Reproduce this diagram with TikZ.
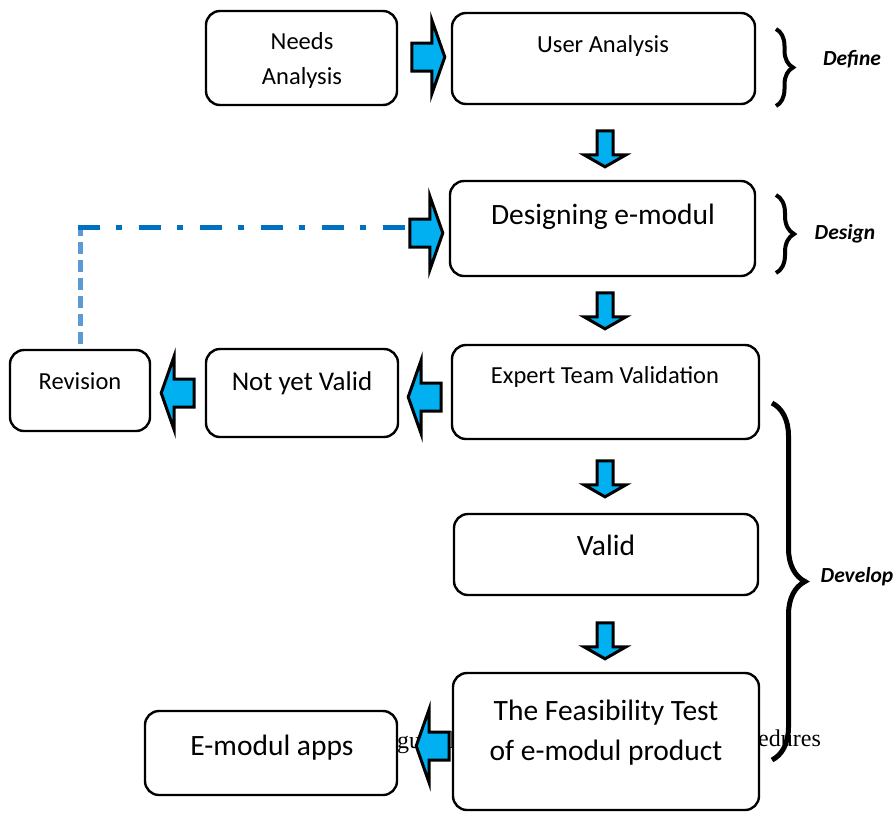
\documentclass[tikz,border=0pt]{standalone}
\usepackage{fontspec}
\setmainfont{Carlito}
\newfontfamily\capfont{Liberation Serif}
\usetikzlibrary{calc,decorations.pathreplacing}
\definecolor{arrowfill}{HTML}{00B0F0}
\definecolor{linkdark}{HTML}{0070C0}
\definecolor{linklight}{HTML}{5B9BD5}
\tikzset{
  box/.style={draw=black, line width=2.4pt, rounded corners=14pt, fill=white, inner sep=0pt},
  lbl/.style={anchor=base, inner sep=0pt},
  fs/.style={font=\fontsize{24.5}{29}\selectfont},
  fm/.style={font=\fontsize{27}{32}\selectfont},
  fl/.style={font=\fontsize{29.5}{35}\selectfont},
  tag/.style={font=\fontsize{21.5}{25}\selectfont\bfseries\itshape, anchor=base, inner sep=0pt},
  frag/.style={font=\capfont\fontsize{24}{28}\selectfont, anchor=base west, inner sep=0pt},
  blockline/.style={draw=black, fill=arrowfill, line width=3pt, line join=miter, miter limit=12},
  bracestyle/.style={decorate, decoration={brace, amplitude=#1}},
  rblock/.pic={\path[blockline] (0,0) -- (-13,-37) -- (-13,-14) -- (-33,-14) -- (-33,14) -- (-13,14) -- (-13,37) -- cycle;},
  dblock/.pic={\path[blockline] (0,0) -- (-21,-12) -- (-8,-12) -- (-8,-36) -- (8,-36) -- (8,-12) -- (21,-12) -- cycle;}
}
\begin{document}
\begin{tikzpicture}[x=1pt,y=-1pt]
\useasboundingbox (0,0) rectangle (893,812);
\fill[white] (0,0) rectangle (893,812);

% caption fragments showing behind the boxes
\node[frag] (fragA) at (397,748) {gu};
\node[frag] (fragB) at (449,748) {l};
\node[frag] (fragC) at (758,746) {edures};

% boxes
\node[box, minimum width=191, minimum height=94] (needs) at (301.5,58) {};
\node[box, minimum width=303, minimum height=91] (user) at (603.5,58.5) {};
\node[box, minimum width=305, minimum height=95] (design) at (602.5,228.5) {};
\node[box, minimum width=307, minimum height=94] (expert) at (605.5,392) {};
\node[box, minimum width=192, minimum height=88] (notyet) at (302,393) {};
\node[box, minimum width=140, minimum height=81] (revision) at (80,390.5) {};
\node[box, minimum width=304, minimum height=81] (valid) at (606,554.5) {};
\node[box, minimum width=306, minimum height=137] (feas) at (606,741.5) {};
\node[box, minimum width=252, minimum height=84] (emod) at (271,753) {};

% box texts
\node[lbl,fs] (needsA) at (302,49) {Needs};
\node[lbl,fs] (needsB) at (302,84) {Analysis};
\node[lbl,fs] (userT) at (603,52) {User Analysis};
\node[lbl,fl] (designT) at (603,224.5) {Designing e-modul};
\node[lbl,fs] (expertT) at (605,383) {Expert Team Validation};
\node[lbl,fm] (notyetT) at (302,390) {Not yet Valid};
\node[lbl,fs] (revisionT) at (80,389) {Revision};
\node[lbl,fl] (validT) at (606,555.5) {Valid};
\node[lbl,fl] (feasA) at (606,720.5) {The Feasibility Test};
\node[lbl,fl] (feasB) at (606,760.5) {of e-modul product};
\node[lbl,fl] (emodT) at (272,755.5) {E-modul apps};

% revision feedback line
\coordinate (revtop) at ($(revision.north)+(0,-5)$);
\coordinate (corner) at (revtop |- 0,227);
\coordinate (backend) at ($(design.west)+(-38,-1.5)$);
\draw[linklight, line width=5pt, dash pattern=on 12pt off 6pt] (revtop) -- (corner);
\draw[linkdark, line width=5pt, dash pattern=on 22pt off 16pt on 6pt off 17pt] ($(corner)+(-2.5,0)$) -- (backend);

% block arrows
\pic at ($(user.west)+(-6,-1.5)$) {rblock};
\pic at ($(design.north)+(2.5,-13)$) {dblock};
\pic at ($(design.west)+(-6,4.5)$) {rblock};
\pic at ($(expert.north)+(-0.5,-15)$) {dblock};
\pic[rotate=180] at ($(notyet.east)+(9,4)$) {rblock};
\pic[rotate=180] at ($(revision.east)+(10,2.5)$) {rblock};
\pic at ($(valid.north)+(-1,-16)$) {dblock};
\pic at ($(feas.north)+(-1,-13)$) {dblock};
\pic[rotate=180] at ($(emod.east)+(18,-7)$) {rblock};

% braces and phase labels
\draw[bracestyle=17pt, line width=4pt] (776,29) -- (776,106);
\draw[bracestyle=18pt, line width=4pt] (776,195) -- (776,273);
\draw[bracestyle=33pt, line width=5pt] (772,403) -- (772,760);
\node[tag] (define) at (852,65.5) {Define};
\node[tag] (designtag) at (845,239.5) {Design};
\node[tag] (develop) at (857,582) {Develop};
\end{tikzpicture}
\end{document}
